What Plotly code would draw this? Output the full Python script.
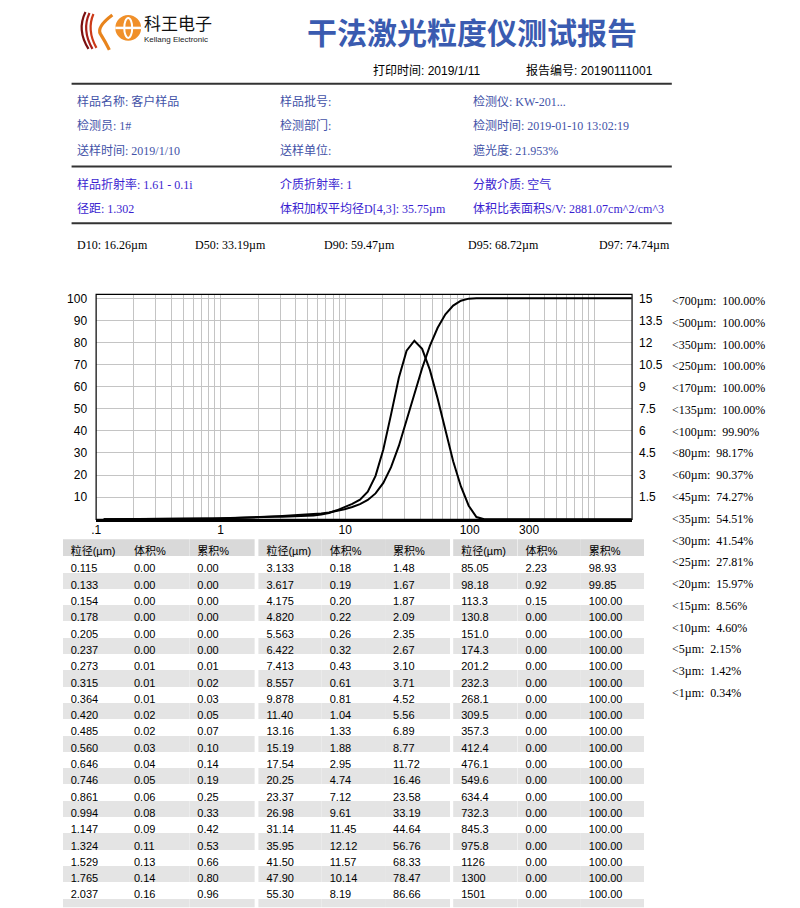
import plotly.graph_objects as go

W, H = 800, 908


def px(x):
    return x / W


def py(y):
    return 1 - y / H


# ---------------- data ----------------
size_labels = [
    "0.115", "0.133", "0.154", "0.178", "0.205", "0.237", "0.273", "0.315", "0.364", "0.420",
    "0.485", "0.560", "0.646", "0.746", "0.861", "0.994", "1.147", "1.324", "1.529", "1.765",
    "2.037", "2.352", "2.715",
    "3.133", "3.617", "4.175", "4.820", "5.563", "6.422", "7.413", "8.557", "9.878", "11.40",
    "13.16", "15.19", "17.54", "20.25", "23.37", "26.98", "31.14", "35.95", "41.50", "47.90",
    "55.30", "63.83", "73.68",
    "85.05", "98.18", "113.3", "130.8", "151.0", "174.3", "201.2", "232.3", "268.1", "309.5",
    "357.3", "412.4", "476.1", "549.6", "634.4", "732.3", "845.3", "975.8", "1126", "1300",
    "1501", "1733", "2000",
]
volume_pct = [
    0.00, 0.00, 0.00, 0.00, 0.00, 0.00, 0.01, 0.01, 0.01, 0.02,
    0.02, 0.03, 0.04, 0.05, 0.06, 0.08, 0.09, 0.11, 0.13, 0.14,
    0.16, 0.17, 0.17,
    0.18, 0.19, 0.20, 0.22, 0.26, 0.32, 0.43, 0.61, 0.81, 1.04,
    1.33, 1.88, 2.95, 4.74, 7.12, 9.61, 11.45, 12.12, 11.57, 10.14,
    8.19, 6.10, 3.94,
    2.23, 0.92, 0.15, 0.00, 0.00, 0.00, 0.00, 0.00, 0.00, 0.00,
    0.00, 0.00, 0.00, 0.00, 0.00, 0.00, 0.00, 0.00, 0.00, 0.00,
    0.00, 0.00, 0.00,
]
cumulative_pct = [
    0.00, 0.00, 0.00, 0.00, 0.00, 0.00, 0.01, 0.02, 0.03, 0.05,
    0.07, 0.10, 0.14, 0.19, 0.25, 0.33, 0.42, 0.53, 0.66, 0.80,
    0.96, 1.13, 1.30,
    1.48, 1.67, 1.87, 2.09, 2.35, 2.67, 3.10, 3.71, 4.52, 5.56,
    6.89, 8.77, 11.72, 16.46, 23.58, 33.19, 44.64, 56.76, 68.33, 78.47,
    86.66, 92.76, 96.70,
    98.93, 99.85, 100.00, 100.00, 100.00, 100.00, 100.00, 100.00, 100.00, 100.00,
    100.00, 100.00, 100.00, 100.00, 100.00, 100.00, 100.00, 100.00, 100.00, 100.00,
    100.00, 100.00, 100.00,
]
sizes = [float(s) for s in size_labels]

table_headers = ["粒径(µm)", "体积%", "累积%"]
rows_per_block = 23
shown_rows = 21          # rows fully visible in each table column block

below_sizes = [700, 500, 350, 250, 170, 135, 100, 80, 60, 45, 35, 30, 25, 20, 15, 10, 5, 3, 1]
below_pct = [100.00, 100.00, 100.00, 100.00, 100.00, 100.00, 99.90, 98.17, 90.37, 74.27,
             54.51, 41.54, 27.81, 15.97, 8.56, 4.60, 2.15, 1.42, 0.34]

d_names = ["D10", "D50", "D90", "D95", "D97"]
d_values = [16.26, 33.19, 59.47, 68.72, 74.74]

info_rows = [
    ["样品名称: 客户样品", "样品批号:", "检测仪: KW-201..."],
    ["检测员: 1#", "检测部门:", "检测时间: 2019-01-10 13:02:19"],
    ["送样时间: 2019/1/10", "送样单位:", "遮光度: 21.953%"],
]
param_rows = [
    ["样品折射率: 1.61 - 0.1i", "介质折射率: 1", "分散介质: 空气"],
    ["径距: 1.302", "体积加权平均径D[4,3]: 35.75µm", "体积比表面积S/V: 2881.07cm^2/cm^3"],
]

left_ticks = [10, 20, 30, 40, 50, 60, 70, 80, 90, 100]
right_ticks = [1.5, 3, 4.5, 6, 7.5, 9, 10.5, 12, 13.5, 15]
x_labels = {0.1: ".1", 1: "1", 10: "10", 100: "100", 300: "300"}

# ---------------- figure ----------------
SANS = "Liberation Sans, Arial, Noto Sans CJK SC"
SERIF = "Liberation Serif, Times New Roman, Noto Sans CJK SC"
CJK = "Noto Sans CJK SC, Liberation Sans"

fig = go.Figure()

fig.add_trace(go.Scatter(x=sizes, y=cumulative_pct, mode="lines",
                         line=dict(color="black", width=2), xaxis="x", yaxis="y",
                         hoverinfo="skip"))
fig.add_trace(go.Scatter(x=sizes, y=volume_pct, mode="lines",
                         line=dict(color="black", width=2), xaxis="x", yaxis="y2",
                         hoverinfo="skip"))

# tables (the partially visible next row at the bottom is shown as a blank striped row)
table_geom = [((58, 252), [64, 64, 66]), ((255, 449), [64, 64, 66]), ((451, 644), [65, 64, 64])]
for b, ((x0, x1), cw) in enumerate(table_geom):
    idx = list(range(b * rows_per_block, b * rows_per_block + shown_rows))
    col_size = [size_labels[i] for i in idx] + [""]
    col_vol = ["%.2f" % volume_pct[i] for i in idx] + [""]
    col_cum = ["%.2f" % cumulative_pct[i] for i in idx] + [""]
    n = len(col_size)
    fills = ["#ffffff" if r % 2 == 0 else "#e4e4e4" for r in range(n)]
    fig.add_trace(go.Table(
        domain=dict(x=[px(x0), px(x1)], y=[0, py(538)]),
        columnwidth=cw,
        header=dict(values=table_headers, fill_color="#d9d9d9", align="left",
                    font=dict(family=SANS, size=11, color="black"),
                    line=dict(width=0), height=17),
        cells=dict(values=[col_size, col_vol, col_cum], fill_color=[fills], align="left",
                   font=dict(family=SANS, size=11, color="black"),
                   line=dict(width=0), height=16.3),
    ))

grid_vals = []
for dec in [0.1, 1, 10, 100]:
    for m in range(1, 10):
        grid_vals.append(round(dec * m, 6))
grid_vals.append(1000)
grid_text = [x_labels.get(v, "") for v in grid_vals]

fig.update_layout(
    width=W, height=H,
    margin=dict(l=0, r=0, t=0, b=0),
    paper_bgcolor="white", plot_bgcolor="white",
    showlegend=False,
    xaxis=dict(type="log", range=[-1, 3.304], domain=[px(91.7), px(631)],
               tickvals=grid_vals, ticktext=grid_text, showgrid=True,
               gridcolor="#c4c4c4", gridwidth=1, showline=True, linecolor="black",
               linewidth=3, ticks="", ticklen=0, ticklabelstandoff=-3,
               zeroline=False, anchor="y",
               tickfont=dict(family=SANS, size=12, color="black")),
    yaxis=dict(range=[0, 101.8], domain=[py(518), py(292.3)], tickvals=left_ticks,
               showgrid=True, gridcolor="#c4c4c4", gridwidth=1, zeroline=False,
               showline=False, ticks="", ticklen=0, ticklabelstandoff=8, anchor="x",
               tickfont=dict(family=SANS, size=12, color="black")),
    yaxis2=dict(range=[0, 15.27], overlaying="y", side="right", anchor="x",
                tickvals=right_ticks, ticktext=["%g" % v for v in right_ticks],
                showgrid=False, zeroline=False, showline=False, ticks="", ticklen=0,
                ticklabelstandoff=6,
                tickfont=dict(family=SANS, size=12, color="black")),
)

shapes = []
# plot frame
shapes.append(dict(type="rect", xref="x domain", yref="y domain", x0=0, x1=1, y0=0, y1=1,
                   line=dict(color="black", width=1.2), layer="above"))
# separator lines
for yy in [81, 164, 221]:
    shapes.append(dict(type="line", xref="paper", yref="paper", x0=px(67), x1=px(671),
                       y0=py(yy), y1=py(yy), line=dict(color="#333333", width=2)))


# logo flames
def path(points_cmd):
    out = []
    for item in points_cmd:
        if isinstance(item, str):
            out.append(item)
        else:
            out.append("%.5f,%.5f" % (px(item[0]), py(item[1])))
    return " ".join(out)


flames = [
    (["M", (81, 9), "Q", (72, 27), (84, 46)], "#7a1010", 2.2),
    (["M", (85, 10), "Q", (77, 27), (88, 46)], "#a8201a", 2.2),
    (["M", (89, 11), "Q", (82, 27), (92, 45)], "#cc3a18", 2.2),
    (["M", (108, 12), "Q", (92, 24), (96, 31), "Q", (101, 39), (105, 47)], "#e8841c", 3.2),
]
for cmds, col, wdt in flames:
    shapes.append(dict(type="path", xref="paper", yref="paper", path=path(cmds),
                       line=dict(color=col, width=wdt)))
shapes.append(dict(type="circle", xref="paper", yref="paper", x0=px(111), x1=px(137),
                   y0=py(12), y1=py(38), fillcolor="#f0902a", line=dict(width=0)))
shapes.append(dict(type="line", xref="paper", yref="paper", x0=px(111), x1=px(137),
                   y0=py(25), y1=py(25), line=dict(color="white", width=2.5)))
shapes.append(dict(type="circle", xref="paper", yref="paper", x0=px(120), x1=px(128),
                   y0=py(15), y1=py(35), fillcolor="rgba(0,0,0,0)",
                   line=dict(color="white", width=2)))
fig.update_layout(shapes=shapes)

ann = []


def text(x, y, s, size=12, color="black", family=SANS, anchor="left", bold=False):
    ann.append(dict(xref="paper", yref="paper", x=px(x), y=py(y),
                    text=("<b>%s</b>" % s) if bold else s,
                    showarrow=False, xanchor=anchor, yanchor="middle",
                    font=dict(family=family, size=size, color=color)))


# logo text + title
text(138, 20, "科王电子", size=17, family=CJK, color="#111111")
text(138, 37, "Kellang Electronic", size=8, family=SANS, color="#222222")
text(470, 28, "干法激光粒度仪测试报告", size=30, family=CJK, color="#3a5bb0", anchor="center",
     bold=True)
text(368, 68, "打印时间: 2019/1/11", size=12, family=SANS)
text(522, 68, "报告编号: 20190111001", size=12, family=SANS)

col_x = [70, 275, 469]
for r, row in enumerate(info_rows):
    for c, s in enumerate(row):
        text(col_x[c], [99, 123, 148][r], s, size=12, family=SERIF, color="#4252a8")
for r, row in enumerate(param_rows):
    for c, s in enumerate(row):
        text(col_x[c], [182, 207][r], s, size=12, family=SERIF, color="#3a1ed0")

d_x = [70, 189, 319, 464, 596]
for i, (n, v) in enumerate(zip(d_names, d_values)):
    text(d_x[i], 243, "%s: %.2fµm" % (n, v), size=12, family=SERIF)

for i, (s, p) in enumerate(zip(below_sizes, below_pct)):
    text(669, 299 + i * 21.85, "&lt;%dµm:  %.2f%%" % (s, p), size=12, family=SERIF)

fig.update_layout(annotations=ann)

fig.write_html("out.html")
